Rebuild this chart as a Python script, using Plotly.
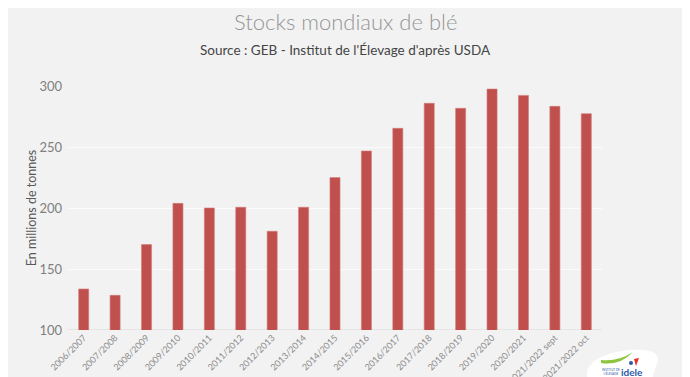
import plotly.graph_objects as go

categories = ["2006/2007", "2007/2008", "2008/2009", "2009/2010", "2010/2011", "2011/2012",
              "2012/2013", "2013/2014", "2014/2015", "2015/2016", "2016/2017", "2017/2018",
              "2018/2019", "2019/2020", "2020/2021", "2021/2022 sept", "2021/2022 oct"]
stocks = [133.6, 128.4, 170.0, 203.8, 200.0, 200.6, 180.9, 200.6, 224.9, 246.7,
          265.3, 285.8, 281.7, 297.5, 292.3, 283.3, 277.3]
y_ticks = [100, 150, 200, 250, 300]

FONT = "Lato, 'DejaVu Sans', sans-serif"
W, H = 690, 377
OFF = 8  # page body margin
# desired plot area in page pixels
PL, PR, PT, PB = 68, 602, 86, 330
L, T = PL - OFF, PT - OFF
R = W - (PR - OFF)
B = H - (PB - OFF)
PW, PH = PR - PL, PB - PT


def px(x):
    return (x - PL) / PW


def py(y):
    return (PB - y) / PH


xc = px(W / 2)

fig = go.Figure(go.Bar(
    x=categories, y=stocks,
    marker=dict(color="#c0504d", line=dict(color="#d27a77", width=0.6)),
    hoverinfo="x+y",
))

fig.update_layout(
    width=W, height=H,
    paper_bgcolor="#f2f2f2", plot_bgcolor="#f2f2f2",
    margin=dict(l=L, r=R, t=T, b=B),
    bargap=0.68,
    showlegend=False,
    font=dict(family=FONT, color="#808080"),
    xaxis=dict(
        tickangle=-45, tickfont=dict(size=9, color="#8c8c8c"),
        showgrid=False, showline=False, ticks="", automargin=False,
    ),
    yaxis=dict(
        range=[100, 300], tickvals=y_ticks, ticks="",
        tickfont=dict(size=13, color="#808080"),
        ticklabelstandoff=5,
        showgrid=True, gridcolor="#fbfbfb", gridwidth=1,
        zeroline=False, showline=False, automargin=False,
        title=dict(text="En millions de tonnes", font=dict(size=12.5, color="#595959"), standoff=0),
    ),
    annotations=[
        dict(text="Stocks mondiaux de blé", xref="paper", yref="paper",
             x=xc, y=py(22), xanchor="center", yanchor="middle",
             showarrow=False, font=dict(size=22, color="#959595", family=FONT, weight=300)),
        dict(text="Source : GEB - Institut de l'Élevage d'après USDA", xref="paper", yref="paper",
             x=xc, y=py(50), xanchor="center", yanchor="middle",
             showarrow=False, font=dict(size=13.5, color="#454545", family=FONT)),
        dict(text="<b>idele</b>", xref="paper", yref="paper",
             x=px(632), y=py(372), xanchor="center", yanchor="middle",
             showarrow=False, font=dict(size=10, color="#2b59a8", family=FONT)),
        dict(text="INSTITUT DE<br>L'ÉLEVAGE", xref="paper", yref="paper",
             x=px(611), y=py(372), xanchor="center", yanchor="middle",
             showarrow=False, font=dict(size=3, color="#2b59a8", family=FONT)),
    ],
)
fig.add_shape(type="line", xref="paper", yref="y", x0=0, x1=1, y0=100, y1=100,
              line=dict(color="#d9d9d9", width=1), layer="below")

# logo blob
blob = (f"M {px(588)},{py(380)} C {px(582)},{py(362)} {px(605)},{py(352)} {px(630)},{py(350)} "
        f"C {px(655)},{py(348)} {px(662)},{py(355)} {px(656)},{py(366)} L {px(652)},{py(380)} Z")
fig.add_shape(type="path", xref="paper", yref="paper", path=blob,
              fillcolor="#ffffff", line=dict(width=0), layer="above")
swoosh = (f"M {px(601)},{py(360)} Q {px(618)},{py(362)} {px(633)},{py(352)} "
          f"Q {px(620)},{py(366)} {px(601)},{py(363)} Z")
fig.add_shape(type="path", xref="paper", yref="paper", path=swoosh,
              fillcolor="#8cc63f", line=dict(width=0), layer="above")
fig.add_shape(type="path", xref="paper", yref="paper",
              path=f"M {px(634)},{py(359)} L {px(639)},{py(358)} L {px(636)},{py(366)} Z",
              fillcolor="#e63027", line=dict(width=0), layer="above")
fig.add_shape(type="circle", xref="paper", yref="paper",
              x0=px(629), x1=px(633), y0=py(365), y1=py(361),
              fillcolor="#2b59a8", line=dict(width=0), layer="above")

fig.write_html("out.html")
